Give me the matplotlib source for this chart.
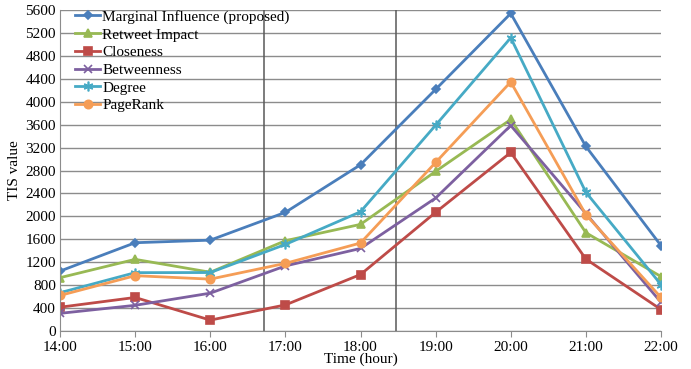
import matplotlib
matplotlib.use("Agg")
import matplotlib.pyplot as plt

times = ["14:00", "15:00", "16:00", "17:00", "18:00", "19:00", "20:00", "21:00", "22:00"]
marginal = [1045, 1540, 1585, 2070, 2900, 4215, 5540, 3220, 1490]
retweet = [930, 1250, 1025, 1575, 1860, 2785, 3690, 1715, 950]
closeness = [415, 585, 190, 455, 985, 2070, 3115, 1255, 375]
betweenness = [308, 448, 660, 1135, 1440, 2320, 3585, 2050, 500]
degree = [668, 1018, 1020, 1510, 2080, 3590, 5115, 2420, 810]
pagerank = [620, 965, 905, 1180, 1535, 2940, 4345, 2030, 585]

series = [
    ("Marginal Influence (proposed)", marginal, "#4A7EBB", "D", 4),
    ("Retweet Impact", retweet, "#98B954", "^", 6),
    ("Closeness", closeness, "#BE4B48", "s", 5.5),
    ("Betweenness", betweenness, "#7D60A0", "x", 5.5),
    ("Degree", degree, "#46AAC5", (6, 2, 0), 7),
    ("PageRank", pagerank, "#F59D56", "o", 6),
]

plt.rcParams['font.family'] = ['Liberation Serif', 'DejaVu Serif']
fig = plt.figure(figsize=(6.91, 3.69), dpi=100)
ax = fig.add_axes([60/691, 38/369, 601/691, 321/369])
x = list(range(len(times)))
for name, vals, c, m, ms in series:
    ax.plot(x, vals, color=c, marker=m, markersize=ms, lw=2.0, label=name,
            markeredgecolor=c, markerfacecolor=c, markeredgewidth=1.2)

ax.set_xlim(0, 8)
ax.set_ylim(0, 5600)
ax.set_yticks(range(0, 5601, 400))
ax.set_xticks(x)
ax.set_xticklabels(times)
ax.yaxis.grid(True, color="#8C8C8C", lw=1)
ax.set_axisbelow(True)
for xv in [2.72, 4.47]:
    ax.axvline(xv, color="#595959", lw=1.1, zorder=1)
for s in ["top", "right"]:
    ax.spines[s].set_visible(False)
ax.spines["left"].set_color("#8C8C8C")
ax.spines["bottom"].set_color("#8C8C8C")
ax.tick_params(axis="y", length=0, labelsize=11, pad=3)
ax.tick_params(axis="x", length=4, color="#8C8C8C", labelsize=11, pad=3)
ax.set_ylabel("TIS value", fontsize=11, labelpad=3)
ax.set_xlabel("Time (hour)", fontsize=11, labelpad=-1)
leg = ax.legend(loc="upper left", bbox_to_anchor=(15/601, 1.0), frameon=False,
                fontsize=11, handlelength=1.65, labelspacing=0.26,
                borderaxespad=0, borderpad=0, handletextpad=0.15)
fig.savefig("out.png", dpi=100)
